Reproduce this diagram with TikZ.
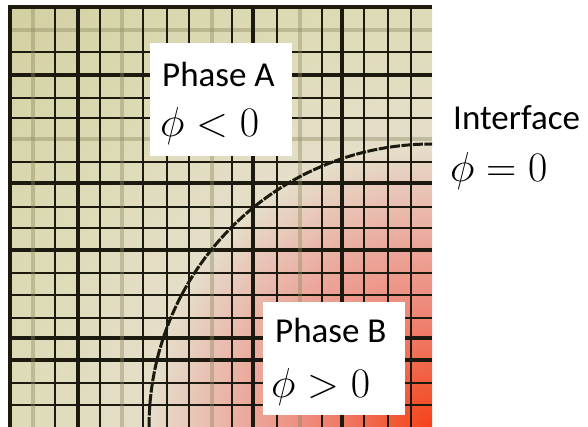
\RequirePackage{fix-cm}
\documentclass[tikz,border=0pt]{standalone}
\usepackage{fontspec}
\newfontfamily\calfont{Carlito}
\usetikzlibrary{positioning}
\definecolor{gridink}{RGB}{28,26,14}
\definecolor{gridfade}{RGB}{140,135,95}
\definecolor{phaseB}{RGB}{246,65,25}
\definecolor{phaseBhot}{RGB}{242,90,55}
\definecolor{phaseBred}{RGB}{240,120,100}
\definecolor{phaseBmid}{RGB}{238,142,128}
\definecolor{phaseBpink}{RGB}{235,170,158}
\definecolor{phaseBpale}{RGB}{232,198,184}
\definecolor{phaseAlight}{RGB}{229,222,202}
\definecolor{phaseAmid}{RGB}{221,219,182}
\definecolor{phaseA}{RGB}{210,208,160}
\pgfdeclareradialshading{phasemix}{\pgfpoint{0bp}{0bp}}{%
  color(0bp)=(phaseB); color(1.67bp)=(phaseBhot); color(3.75bp)=(phaseBred);
  color(5.4bp)=(phaseBmid); color(7.9bp)=(phaseBpink); color(10bp)=(phaseBpale);
  color(11.7bp)=(phaseAlight); color(17.5bp)=(phaseAmid);
  color(25bp)=(phaseA); color(50bp)=(phaseA)}

\begin{document}
\begin{tikzpicture}[x=1pt,y=-1pt,
  ln/.style={draw=gridink,line width=2.8pt},
  thk/.style={draw=gridink,line width=4.2pt},
  fnt/.style={draw=gridfade,line width=3.4pt,opacity=.4},
  phasebox/.style={fill=white,minimum width=142pt,minimum height=113pt,inner sep=0pt},
  lbl/.style={inner sep=0pt,anchor=base west,font=\calfont\fontsize{35}{40}\selectfont},
  mlbl/.style={inner sep=0pt,anchor=base west,font=\fontsize{42}{46}\selectfont}]
\useasboundingbox (0,0) rectangle (588,427);
\coordinate (pivot) at (432,427);
\begin{scope}
\clip (10,7) rectangle (432,427);
\shade[shading=phasemix] (pivot) circle (600);
\foreach \y/\s in {30/fnt,52/ln,75/thk,98/ln,118/ln,139/fnt,162/ln,183/thk,207/ln,228/ln,
  250/thk,273/ln,295/ln,318/ln,338/thk,360/thk,383/ln,405/ln}
  \draw[\s] (0,\y) -- (432,\y);
\foreach \x/\s in {33/fnt,55/ln,78/thk,100/ln,122/fnt,143/ln,167/ln,189/ln,212/fnt,232/ln,
  253/thk,277/ln,300/fnt,322/ln,342/thk,364/ln,388/ln,411/ln}
  \draw[\s] (\x,0) -- (\x,427);
% interface phi = 0
\draw[gridink,line width=3pt,dash pattern=on 10pt off 1.5pt] (pivot) ++(180:283) arc (180:270:283);
\end{scope}
\draw[thk] (10,427) -- (10,7) -- (432,7);

\node[phasebox] (boxA) at (221,100) {};
\node[lbl] (nameA) at (162,87) {Phase A};
\node[mlbl] (signA) at (160,137) {$\phi<0$};
\node[phasebox] (boxB) at (334,358.5) {};
\node[lbl] (nameB) at (275,342) {Phase B};
\node[mlbl] (signB) at (271,397) {$\phi>0$};
\node[lbl] (nameI) at (453,130) {Interface};
\node[mlbl] (signI) at (450,182) {$\phi=0$};
\end{tikzpicture}
\end{document}
